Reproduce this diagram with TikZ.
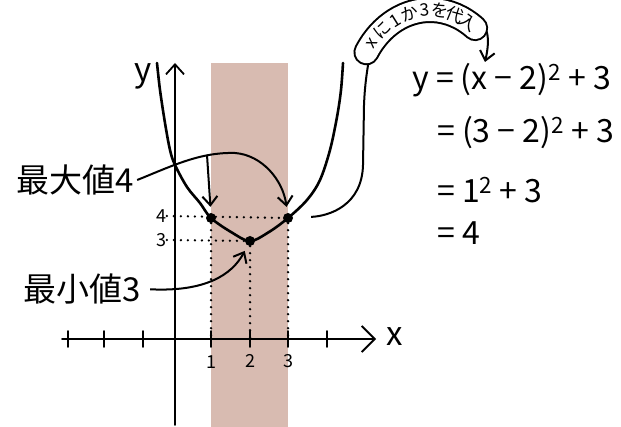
\documentclass[tikz,border=0pt]{standalone}
\usepackage{fontspec}
\setmainfont{Noto Sans CJK JP}
\usetikzlibrary{positioning, arrows.meta}
\definecolor{bandpink}{RGB}{216,187,177}

\begin{document}
\begin{tikzpicture}[
x=1pt, y=-1pt,
axis/.style={line width=1.8pt, line cap=round},
curve/.style={line width=2.6pt, line cap=round},
arrow/.style={-{Straight Barb[length=9pt, width=15pt, line width=2pt]}, line width=2pt},
link/.style={line width=2pt},
guide/.style={line width=2.6pt, line cap=round, dash pattern=on 0pt off 7pt},
pt/.style={circle, fill, inner sep=0pt, minimum size=10pt},
big/.style={font=\fontsize{33pt}{36pt}\selectfont},
eqline/.style={font=\fontsize{32pt}{36pt}\selectfont, anchor=west, inner sep=0pt},
ticklab/.style={font=\fontsize{24pt}{26pt}\selectfont, scale=0.75, inner sep=1pt},
bubtext/.style={font=\fontsize{24pt}{26pt}\selectfont, scale=0.72, inner sep=0pt}
]
\useasboundingbox (0,0) rectangle (621,427);

% --- bande 1 <= x <= 3 ---
\fill[bandpink] (211,63) rectangle (288,427);

% --- axes ---
\coordinate (o) at (175,339);
\draw[axis, -{Straight Barb[length=10pt, width=18pt, line width=1.8pt]}] (175,425) -- (175,63);
\draw[axis, -{Straight Barb[length=13pt, width=26pt, line width=1.8pt]}] (62,339) -- (376,339);
\node[big] (ylab) at (143,76) {y};
\node[big] (xlab) at (395,337) {x};
\foreach \tx in {68,104,143,211,250,288,327}
  \draw[axis] (\tx,331) -- (\tx,347);
\node[ticklab] (t1) at (211,362) {1};
\node[ticklab] (t2) at (250,361) {2};
\node[ticklab] (t3) at (288,361) {3};
\node[ticklab] (y4) at (161,216) {4};
\node[ticklab] (y3) at (161,240) {3};

% --- parabole ---
\draw[curve] plot[smooth, tension=0.55] coordinates {(157,63) (160,90) (165,123) (170,150) (175,165) (187,187) (200,203) (211,218) (231,232) (250,241) (269,232) (288,218) (307,200) (320,180) (330,150) (337,117) (341,90) (343,63)};

% --- points ---
\node[pt] (pmax1) at (211,218) {};
\node[pt] (pmin) at (250,241) {};
\node[pt] (pmax2) at (288,218) {};
\draw[guide] (y4.east) -- (pmax2);
\draw[guide] (y3.east) -- (pmin);
\foreach \p in {pmax1,pmin,pmax2}
  \draw[guide] (\p) -- (\p |- o);

% --- etiquettes ---
\node[big] (maxlab) at (75,180) {最大値4};
\node[big] (minlab) at (82,289) {最小値3};
\coordinate (fork) at (207,155);
\draw[arrow, shorten >=6pt] (maxlab.east) .. controls (172,166) and (200,152) .. (235,153) .. controls (262,155) and (283,180) .. (pmax2);
\draw[arrow, shorten >=6pt] (fork) .. controls (209,180) .. (pmax1);
\draw[arrow, shorten <=6pt, shorten >=6pt] (minlab.east) .. controls (205,292) and (232,275) .. (pmin);

% --- bulle ---
\coordinate (bubc) at (430,100);
\coordinate (bubL) at (372,42);
\coordinate (bubR) at (475,24);
\coordinate (subst) at (485,62);
\draw[link, shorten <=18pt] (pmax2) .. controls (330,216) and (362,205) .. (363,165) -- (364,105) .. controls (365,80) and (368,65) .. (bubL);
\draw[arrow] (bubR) .. controls (489,22) and (490,40) .. (subst);
\draw[line width=26pt, line cap=round] ([shift={(-148:75 and 90)}]bubc) arc[start angle=-148, end angle=-53, x radius=75, y radius=90];
\draw[white, line width=22pt, line cap=round] ([shift={(-148:75 and 90)}]bubc) arc[start angle=-148, end angle=-53, x radius=75, y radius=90];
\foreach \ch [count=\i] in {x,に,1,か,3,を,代,入} {
  \pgfmathsetmacro\a{-141+(\i-1)*11.7}
  \node[bubtext, rotate={atan2(-90*cos(\a),-75*sin(\a))}] (b\i) at ([shift={(\a:75 and 90)}]bubc) {\ch};
}

% --- calcul ---
\node[eqline] (eq1) at (412,80) {y = (x − 2)\textsuperscript{2} + 3};
\node[eqline] (eq2) at (437,133) {= (3 − 2)\textsuperscript{2} + 3};
\node[eqline] (eq3) at (437,190) {= 1\textsuperscript{2} + 3};
\node[eqline] (eq4) at (437,233) {= 4};

\end{tikzpicture}
\end{document}
